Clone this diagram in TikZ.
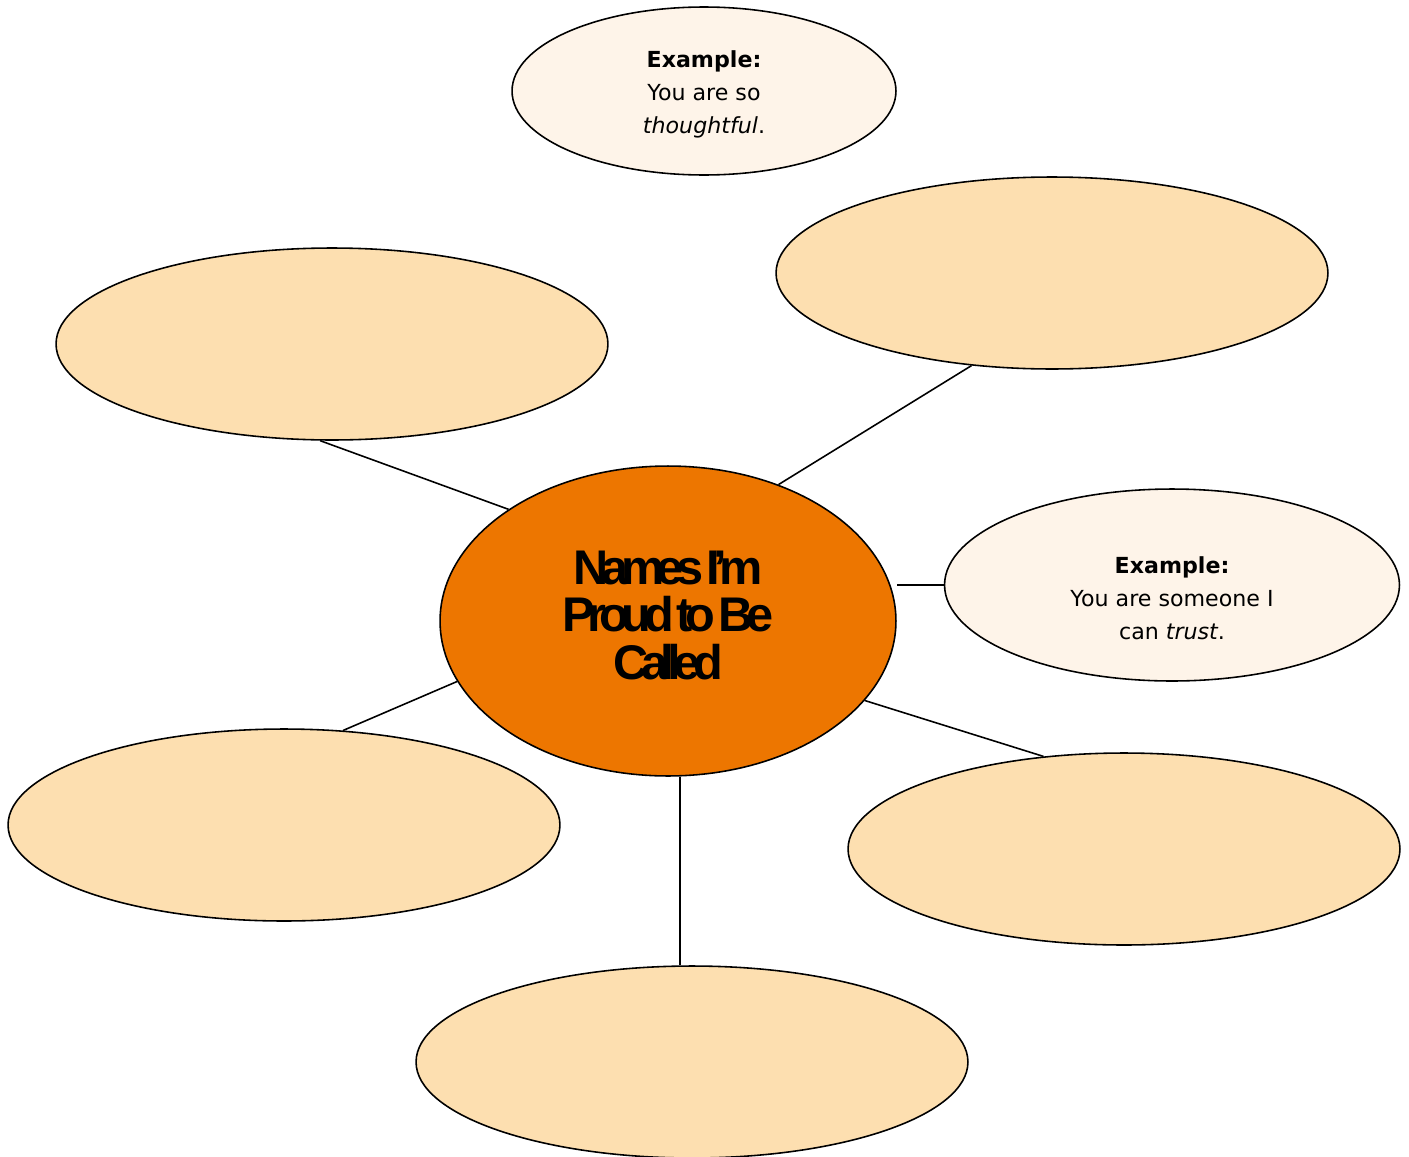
\documentclass[tikz,border=0pt]{standalone}
\usepackage{fontspec}
\setmainfont{DejaVu Sans}
\newfontfamily\titlefont[LetterSpace=-15,WordSpace=0.5]{Liberation Sans}
\usetikzlibrary{shapes.geometric}
\definecolor{hubcolor}{RGB}{237,118,0}
\definecolor{blankcolor}{RGB}{253,223,176}
\definecolor{examplecolor}{RGB}{254,244,233}

\begin{document}
\begin{tikzpicture}[
    x=0.02cm, y=-0.02cm,
    bubble/.style={ellipse, draw, line width=0.9pt, fill=blankcolor, minimum width=11.04cm, minimum height=3.84cm, inner sep=0pt},
    example/.style={bubble, fill=examplecolor, align=center, font=\fontsize{12.6}{19}\selectfont, text depth=5pt},
    hubstyle/.style={ellipse, draw, line width=0.9pt, fill=hubcolor, minimum width=9.12cm, minimum height=6.2cm, inner sep=0pt, align=center, text height=72.8pt, text depth=6pt, font=\titlefont\bfseries\fontsize{27.7}{27.2}\selectfont},
    link/.style={line width=0.9pt}
]
\useasboundingbox (0,0) rectangle (1409,1156);

\node[hubstyle] (hub) at (668,621) {Names I’m\\Proud to Be\\Called};

\node[example, minimum width=7.68cm, minimum height=3.36cm, text height=53.8pt] (topex) at (704,91) {\textbf{Example:}\\You are so\\\textit{thoughtful}.};
\node[example, minimum width=9.1cm, text height=67.4pt] (rightex) at (1172,585) {\textbf{Example:}\\You are someone I\\can \textit{trust}.};

\node[bubble] (upleft) at (332,344) {};
\node[bubble] (upright) at (1052,273) {};
\node[bubble] (lowleft) at (284,825) {};
\node[bubble] (lowright) at (1124,849) {};
\node[bubble] (bottom) at (692,1062) {};

\draw[link] (upleft.263) -- (hub.145);
\draw[link] (upright.229) -- (hub.51);
\draw[link] (rightex.west) -- (rightex.west -| hub.east);
\draw[link] (hub.196) -- (lowleft.58);
\draw[link] (hub.338) -- (lowright.131);
\draw[link] (bottom.97) -- (bottom.97 |- hub.south);
\end{tikzpicture}
\end{document}
